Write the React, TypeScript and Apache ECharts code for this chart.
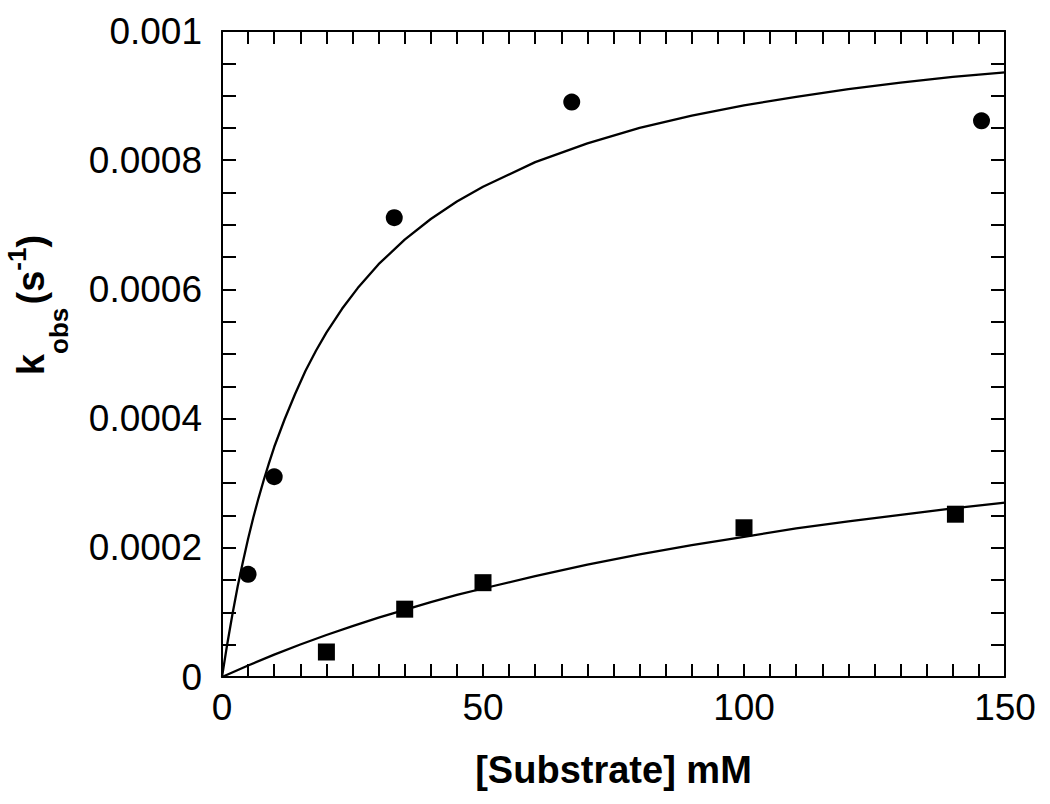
import React, { useEffect, useRef } from "react";
import * as echarts from "echarts";

// Measured points (substrate mM, k_obs s^-1)
const circleX = [5, 10, 33, 67, 145.5];
const circleY = [0.000159, 0.00031, 0.000711, 0.00089, 0.000861];
const squareX = [20, 35, 50, 100, 140.5];
const squareY = [0.0000387, 0.000105, 0.000146, 0.000231, 0.000252];

// Fitted curves
const fitAX = [0, 1, 2, 3, 4, 5, 6, 7, 8, 9, 10, 12, 14, 16, 18, 20, 23, 26, 30, 35, 40, 45, 50, 60, 70, 80, 90, 100, 110, 120, 130, 140, 150];
const fitAY = [0, 0.0000508, 0.0000972, 0.000140, 0.000178, 0.000214, 0.000247, 0.000277, 0.000305, 0.000331, 0.000356, 0.000399, 0.000438, 0.000474, 0.000505, 0.000533, 0.000570, 0.000602, 0.000639, 0.000677, 0.000709, 0.000736, 0.000759, 0.000797, 0.000826, 0.00085, 0.000869, 0.000885, 0.000898, 0.00091, 0.00092, 0.000929, 0.000936];
const fitBX = [0, 5, 10, 15, 20, 25, 30, 35, 40, 45, 50, 60, 70, 80, 90, 100, 110, 120, 130, 140, 150];
const fitBY = [0, 0.0000178, 0.0000347, 0.0000503, 0.000065, 0.0000788, 0.0000918, 0.000104, 0.000116, 0.000127, 0.000137, 0.000156, 0.000174, 0.00019, 0.000204, 0.000217, 0.00023, 0.000241, 0.000251, 0.000261, 0.00027];

const yTickLabels = ["0", "0.0002", "0.0004", "0.0006", "0.0008", "0.001"];
const xTickLabels = ["0", "50", "100", "150"];

const FONT = "'Liberation Sans', Arial, sans-serif";

export default function App() {
  const ref = useRef<HTMLDivElement>(null);
  useEffect(() => {
    if (!ref.current) return;
    const chart = echarts.init(ref.current, null, { renderer: "svg" });
    const zip = (xs: number[], ys: number[]) => xs.map((x, i) => [x, ys[i]]);
    const baseX = {
      type: "value" as const,
      min: 0,
      max: 150,
      interval: 50,
      axisLine: { show: true, onZero: false, lineStyle: { color: "#000", width: 2 } },
      axisTick: { show: true, inside: true, length: 13, lineStyle: { color: "#000", width: 2 } },
      minorTick: { show: true, splitNumber: 10, length: 13, lineStyle: { color: "#000", width: 2 } },
      splitLine: { show: false },
      minorSplitLine: { show: false },
    };
    const baseY = {
      type: "value" as const,
      min: 0,
      max: 0.001,
      interval: 0.0002,
      axisLine: { show: true, onZero: false, lineStyle: { color: "#000", width: 2 } },
      axisTick: { show: true, inside: true, length: 14, lineStyle: { color: "#000", width: 2 } },
      minorTick: { show: true, splitNumber: 4, length: 14, lineStyle: { color: "#000", width: 2 } },
      splitLine: { show: false },
      minorSplitLine: { show: false },
    };
    chart.setOption({
      animation: false,
      backgroundColor: "#fff",
      grid: { left: 222, right: 45, top: 31, bottom: 127, containLabel: false, outerBoundsMode: "none" },
      xAxis: [
        {
          ...baseX,
          position: "bottom",
          name: "[Substrate] mM",
          nameLocation: "middle",
          nameGap: 74,
          nameMoveOverlap: false,
          nameTextStyle: { fontFamily: FONT, fontSize: 38, fontWeight: "bold", color: "#000" },
          axisLabel: {
            show: true,
            margin: 12,
            fontFamily: FONT,
            fontSize: 37,
            color: "#000",
            formatter: (v: number) => xTickLabels[Math.round(v / 50)] ?? "",
          },
        },
        { ...baseX, position: "top", axisLabel: { show: false } },
      ],
      yAxis: [
        {
          ...baseY,
          position: "left",
          name: "{m|k}{sub|obs} {m|(s}{sup|-1}{m|)}",
          nameLocation: "middle",
          nameRotate: 90,
          nameGap: 153,
          nameMoveOverlap: false,
          nameTextStyle: {
            padding: [0, 0, 0, 98],
            rich: {
              m: { fontFamily: FONT, fontSize: 38, fontWeight: "bold", color: "#000", lineHeight: 76, verticalAlign: "middle" },
              sub: { fontFamily: FONT, fontSize: 26, fontWeight: "bold", color: "#000", lineHeight: 30, verticalAlign: "top", padding: [53, 0, 0, 0] },
              sup: { fontFamily: FONT, fontSize: 26, fontWeight: "bold", color: "#000", lineHeight: 30, verticalAlign: "top", padding: [11, 0, 0, 0] },
            },
          },
          axisLabel: {
            show: true,
            margin: 20,
            fontFamily: FONT,
            fontSize: 37,
            color: "#000",
            formatter: (v: number) => yTickLabels[Math.round(v / 0.0002)] ?? "",
          },
        },
        { ...baseY, position: "right", axisLabel: { show: false } },
      ],
      series: [
        {
          type: "line",
          data: zip(fitAX, fitAY),
          showSymbol: false,
          smooth: false,
          lineStyle: { color: "#000", width: 2.3 },
          z: 2,
          silent: true,
        },
        {
          type: "line",
          data: zip(fitBX, fitBY),
          showSymbol: false,
          smooth: false,
          lineStyle: { color: "#000", width: 2.3 },
          z: 2,
          silent: true,
        },
        {
          type: "scatter",
          data: zip(circleX, circleY),
          symbol: "circle",
          symbolSize: 17,
          itemStyle: { color: "#000", opacity: 1 },
          z: 3,
        },
        {
          type: "scatter",
          data: zip(squareX, squareY),
          symbol: "rect",
          symbolSize: 17,
          itemStyle: { color: "#000", opacity: 1 },
          z: 3,
        },
      ],
    });
    return () => chart.dispose();
  }, []);
  return (
    <div
      ref={ref}
      style={{ position: "fixed", left: 0, top: 0, width: 1050, height: 804, background: "#fff" }}
    />
  );
}
